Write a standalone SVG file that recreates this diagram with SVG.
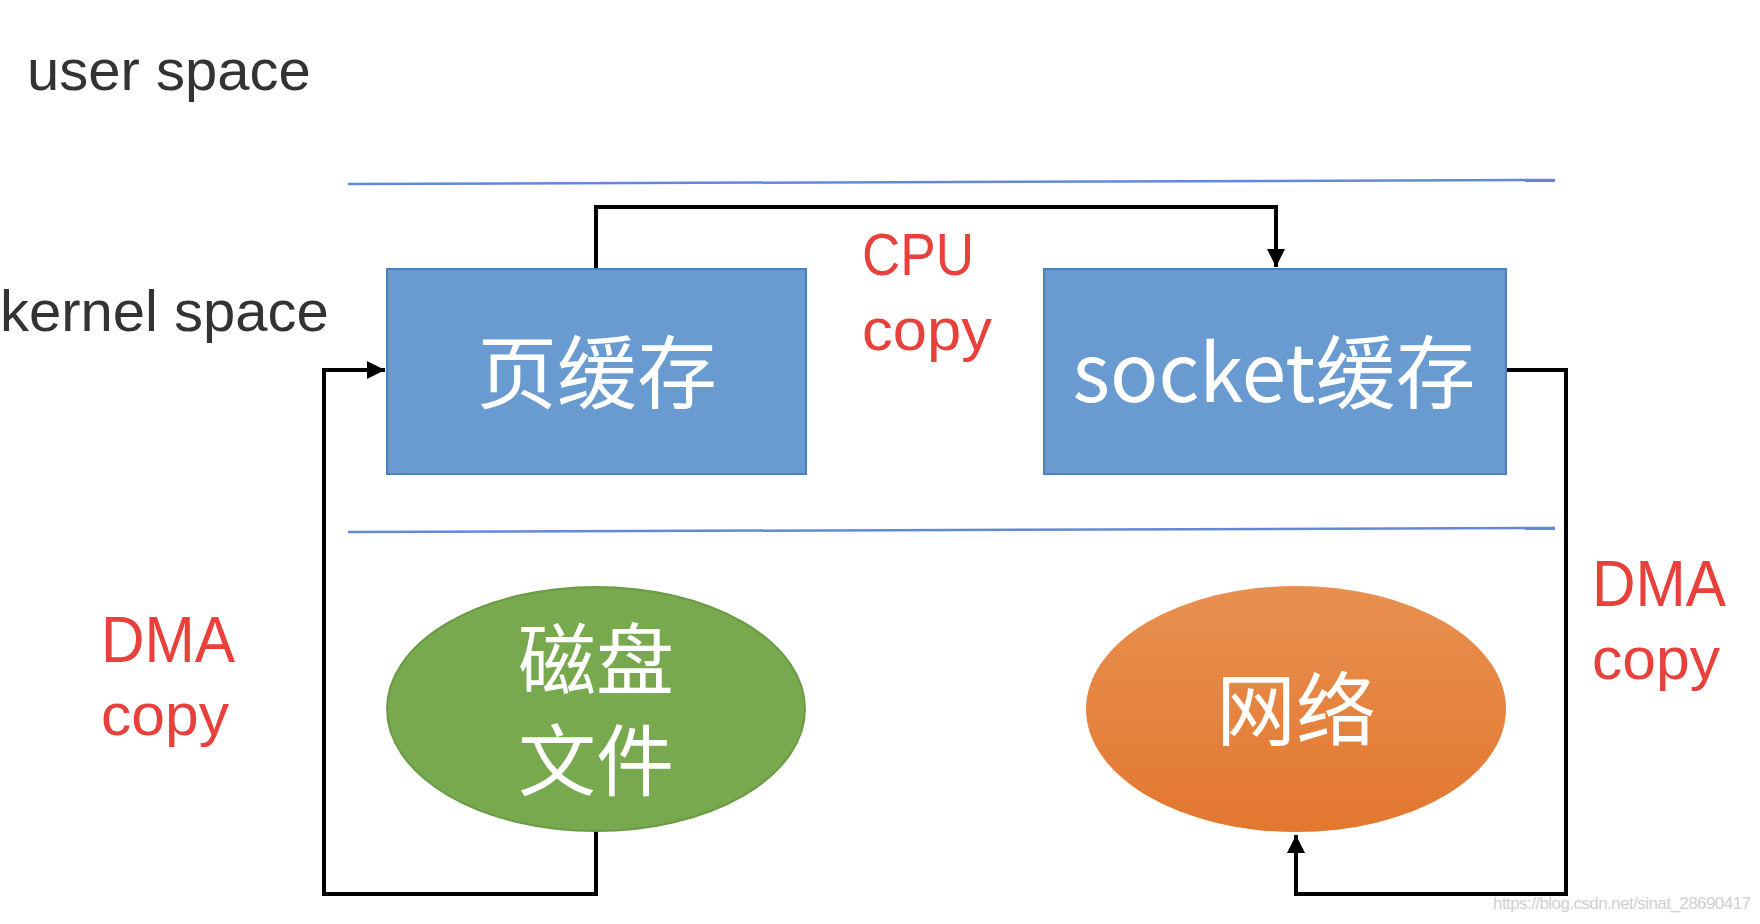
<svg xmlns="http://www.w3.org/2000/svg" width="1760" height="924" viewBox="0 0 1760 924">
<style>
.lbl{font-family:"Liberation Sans","Noto Sans CJK SC",sans-serif;fill:#333;font-size:58px}
.red{font-family:"Liberation Sans","Noto Sans CJK SC",sans-serif;fill:#e8403a;font-size:60px}
.wt{font-family:"Noto Sans CJK SC","Liberation Sans",sans-serif;fill:#fff;font-size:80px;text-anchor:middle}
.sep{stroke:#6488d8;stroke-width:2.5;fill:none}
.box{fill:#6a9bd0;stroke:#4e7fb8;stroke-width:2}
.conn{stroke:#000;stroke-width:4;fill:none}
</style>
<defs>
<marker id="ah" viewBox="0 0 10 10" refX="10" refY="5" markerWidth="4.5" markerHeight="4.5" orient="auto" markerUnits="strokeWidth">
<path d="M0,0 L10,5 L0,10 z" fill="#000"/>
</marker>
<linearGradient id="og" x1="0" y1="0" x2="0" y2="1">
<stop offset="0" stop-color="#e89050"/>
<stop offset="1" stop-color="#e2772f"/>
</linearGradient>
</defs>
<rect width="1760" height="924" fill="#fff"/>
<text class="lbl" x="27" y="90">user space</text>
<text class="lbl" x="0" y="331">kernel space</text>
<line class="sep" x1="348" y1="184" x2="1555" y2="180"/>
<line class="sep" x1="348" y1="532" x2="1555" y2="528"/>
<g id="connectors">
<polyline class="conn" points="596,269 596,207 1276,207 1276,267" marker-end="url(#ah)"/>
<polyline class="conn" points="596,831 596,894 324,894 324,370 385,370" marker-end="url(#ah)"/>
<polyline class="conn" points="1506,370 1566,370 1566,894 1296,894 1296,835" marker-end="url(#ah)"/>
</g>
<g id="page-cache">
<rect class="box" x="387" y="269" width="419" height="205"/>
<text class="wt" x="597" y="402">页缓存</text>
</g>
<g id="socket-cache">
<rect class="box" x="1044" y="269" width="462" height="205"/>
<text class="wt" x="1274" y="402">socket缓存</text>
</g>
<g id="disk-file">
<ellipse cx="596" cy="709" rx="209" ry="122" fill="#79a94f" stroke="#6a9a44" stroke-width="2"/>
<text class="wt" x="596" y="689" style="font-size:78px">磁盘</text>
<text class="wt" x="596" y="790" style="font-size:78px">文件</text>
</g>
<g id="network">
<ellipse cx="1296" cy="709" rx="210" ry="123" fill="url(#og)"/>
<text class="wt" x="1296" y="739" style="font-size:80px">网络</text>
</g>
<text class="red" x="862" y="275" textLength="112" lengthAdjust="spacingAndGlyphs">CPU</text>
<text class="red" x="862" y="350" textLength="130" lengthAdjust="spacingAndGlyphs">copy</text>
<text class="red" x="101" y="662" textLength="134" lengthAdjust="spacingAndGlyphs" style="font-size:65px">DMA</text>
<text class="red" x="101" y="735" textLength="128" lengthAdjust="spacingAndGlyphs">copy</text>
<text class="red" x="1592" y="606" textLength="134" lengthAdjust="spacingAndGlyphs" style="font-size:65px">DMA</text>
<text class="red" x="1592" y="679" textLength="128" lengthAdjust="spacingAndGlyphs">copy</text>
<text x="1493" y="909" font-family="Liberation Sans,sans-serif" font-size="17" fill="#d0d0d0" textLength="258">https://blog.csdn.net/sinat_28690417</text>
</svg>
